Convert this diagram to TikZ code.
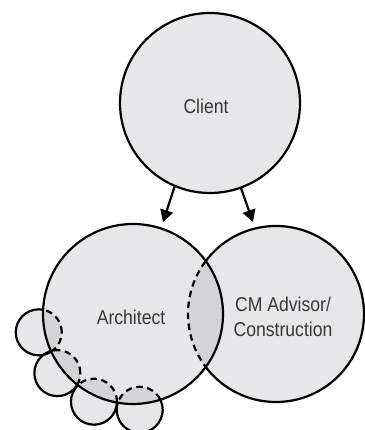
\documentclass[tikz,border=0pt]{standalone}
\usepackage{fontspec}
\setmainfont{Liberation Sans}[FakeStretch=0.88]
\usetikzlibrary{arrows.meta}
\definecolor{lightfill}{HTML}{E6E7E9}
\definecolor{overlapfill}{HTML}{D3D4D6}
\definecolor{txtcol}{HTML}{383838}
\begin{document}
\begin{tikzpicture}[x=1pt,y=1pt,
  outline/.style={line width=2.2pt, draw=black},
  dashline/.style={line width=2.2pt, draw=black, dash pattern=on 6.5pt off 4.5pt},
  txtlbl/.style={text=txtcol, font=\fontsize{20}{25}\selectfont, align=center, inner sep=0pt},
  arr/.style={line width=2.2pt, -{Triangle[length=12pt,width=13pt]}},
  ring/.style={circle, inner sep=0pt, outer sep=0pt, draw=none}
]
\useasboundingbox (0,0) rectangle (364,430);
\coordinate (A) at (133,116);
\coordinate (C) at (276,116);
\node[ring, minimum size=180pt] (client) at (210,327) {};
\path (A) ++(191:96pt) coordinate (s1);
\path (A) ++(218:96pt) coordinate (s2);
\path (A) ++(246:96pt) coordinate (s3);
\path (A) ++(274:96pt) coordinate (s4);
% base fills
\fill[lightfill] (client.center) circle (90pt) (C) circle (88pt)
  (s1) circle (23pt) (s2) circle (23pt) (s3) circle (23pt) (s4) circle (23pt);
\draw[outline] (C) circle (88pt)
  (s1) circle (23pt) (s2) circle (23pt) (s3) circle (23pt) (s4) circle (23pt);
% architect
\fill[lightfill] (A) circle (90pt);
\begin{scope}
  \clip (A) circle (90pt);
  \fill[overlapfill] (C) circle (88pt)
    (s1) circle (23pt) (s2) circle (23pt) (s3) circle (23pt) (s4) circle (23pt);
  \draw[dashline] (C) circle (88pt)
    (s1) circle (23pt) (s2) circle (23pt) (s3) circle (23pt) (s4) circle (23pt);
\end{scope}
\draw[outline] (A) circle (90pt);
\draw[outline] (client.center) circle (90pt);
% arrows
\coordinate (t1) at (163,208);
\coordinate (t2) at (253,208);
\draw[arr] (client.247) -- (t1);
\draw[arr] (client.290) -- (t2);
% labels
\node[txtlbl] (clientlbl) at (206,324) {Client};
\node[txtlbl] (archlbl) at (131,113) {Architect};
\node[txtlbl] (cmlbl) at (283,113) {CM Advisor/\\Construction};
\end{tikzpicture}
\end{document}
